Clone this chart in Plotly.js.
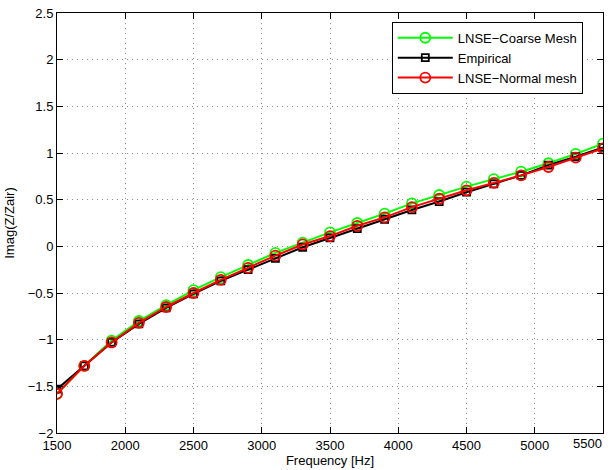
<!DOCTYPE html>
<html>
<head>
<meta charset="utf-8">
<script src="https://cdn.plot.ly/plotly-3.0.1.min.js"></script>
<style>html,body{margin:0;padding:0;background:#fff;}#chart{width:614px;height:470px;}</style>
</head>
<body>
<div id="chart"></div>
<script>
const freq = [1500,1700,1900,2100,2300,2500,2700,2900,3100,3300,3500,3700,3900,4100,4300,4500,4700,4900,5100,5300,5500];
const coarse = [-1.58,-1.28,-1.01,-0.80,-0.63,-0.47,-0.33,-0.20,-0.07,0.04,0.15,0.25,0.35,0.46,0.55,0.64,0.72,0.80,0.89,0.99,1.10];
const empirical = [-1.53,-1.28,-1.03,-0.83,-0.66,-0.51,-0.37,-0.25,-0.13,-0.01,0.09,0.19,0.29,0.39,0.48,0.58,0.67,0.76,0.87,0.96,1.06];
const normal = [-1.58,-1.28,-1.03,-0.82,-0.65,-0.50,-0.36,-0.23,-0.10,0.02,0.11,0.22,0.31,0.42,0.51,0.60,0.68,0.76,0.85,0.95,1.05];
const names = ["LNSE\u2212Coarse Mesh","Empirical","LNSE\u2212Normal mesh"];
const xTicks = [1500,2000,2500,3000,3500,4000,4500,5000,5500];
const xTickText = ["1500","2000","2500","3000","3500","4000","4500","5000","5500"];
const yTicks = [-2,-1.5,-1,-0.5,0,0.5,1,1.5,2,2.5];
const yTickText = ["\u22122","\u22121.5","\u22121","\u22120.5","0","0.5","1","1.5","2","2.5"];

// last x label is drawn as an annotation, right-aligned to its tick, so it fits inside the figure
const lastIdx = xTicks.length - 1;
const xTickTextShown = xTickText.map((t,i)=> i===lastIdx ? "" : t);

const traces = [
  {x:freq,y:coarse,name:names[0],mode:'lines+markers',line:{color:'#00ff00',width:2},marker:{symbol:'circle-open',size:10,color:'#00ff00',line:{width:1.8}}},
  {x:freq,y:empirical,name:names[1],mode:'lines+markers',line:{color:'#000000',width:2},marker:{symbol:'square-open',size:7,color:'#000000',line:{width:1.8}}},
  {x:freq,y:normal,name:names[2],mode:'lines+markers',line:{color:'#ff0000',width:2},marker:{symbol:'circle-open',size:10,color:'#ff0000',line:{width:1.8}}}
];

const axisCommon = {
  showline:true,mirror:'ticks',linecolor:'#000',linewidth:1,
  ticks:'inside',ticklen:6,tickcolor:'#000',
  showgrid:true,gridcolor:'#8c8c8c',griddash:'1px,4px',gridwidth:1,
  zeroline:false,tickfont:{size:13,color:'#000'}
};

const layout = {
  width:614,height:470,
  margin:{l:57,r:11,t:13,b:37},
  paper_bgcolor:'#fff',plot_bgcolor:'#fff',
  font:{family:'Liberation Sans, Arial, sans-serif',size:13,color:'#000'},
  xaxis:Object.assign({},axisCommon,{range:[1500,5500],tickmode:'array',tickvals:xTicks,ticktext:xTickTextShown,
    title:{text:'Frequency [Hz]',font:{size:13},standoff:3}}),
  yaxis:Object.assign({},axisCommon,{range:[-2,2.5],tickmode:'array',tickvals:yTicks,ticktext:yTickText,
    title:{text:'Imag(Z/Zair)',font:{size:13},standoff:10}}),
  annotations:[{x:xTicks[lastIdx],xref:'x',y:0,yref:'paper',text:xTickText[lastIdx],showarrow:false,
    xanchor:'right',yanchor:'top',xshift:1,yshift:-1,font:{size:13,color:'#000'}}],
  showlegend:true,
  legend:{x:0.963,y:0.979,xanchor:'right',yanchor:'top',bgcolor:'#fff',bordercolor:'#000',borderwidth:1,
    font:{size:13},tracegroupgap:0,itemwidth:55}
};

Plotly.newPlot('chart',traces,layout,{displayModeBar:false,staticPlot:true});
</script>
</body>
</html>
